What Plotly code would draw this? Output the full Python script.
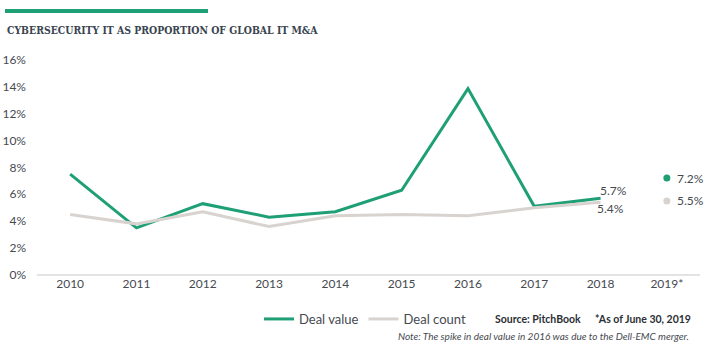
import plotly.graph_objects as go

years = ["2010", "2011", "2012", "2013", "2014", "2015", "2016", "2017", "2018", "2019*"]
deal_value = [7.5, 3.5, 5.3, 4.3, 4.7, 6.3, 13.85, 5.1, 5.7]
deal_count = [4.5, 3.8, 4.7, 3.6, 4.4, 4.5, 4.4, 5.0, 5.4]
ytd_value = 7.2
ytd_count = 5.5
y_ticks = [0, 2, 4, 6, 8, 10, 12, 14, 16]

GREEN = "#1f9f76"
GRAY = "#d8d3cf"
FONT = "Lato"
TXT = "#454a50"

fig = go.Figure()
fig.add_trace(go.Scatter(x=years[:9], y=deal_value, mode="lines", name="Deal value",
                         line=dict(color=GREEN, width=3)))
fig.add_trace(go.Scatter(x=years[:9], y=deal_count, mode="lines", name="Deal count",
                         line=dict(color=GRAY, width=3)))
fig.add_trace(go.Scatter(x=[years[9]], y=[ytd_value], mode="markers", showlegend=False,
                         marker=dict(color=GREEN, size=7)))
fig.add_trace(go.Scatter(x=[years[9]], y=[ytd_count], mode="markers", showlegend=False,
                         marker=dict(color=GRAY, size=7)))

ann = []
ann.append(dict(x=8, y=deal_value[8], text=f"{deal_value[8]:.1f}%", xref="x", yref="y",
                showarrow=False, xanchor="left", xshift=-3, yshift=8,
                font=dict(family=FONT, size=12, color=TXT)))
ann.append(dict(x=8, y=deal_count[8], text=f"{deal_count[8]:.1f}%", xref="x", yref="y",
                showarrow=False, xanchor="left", xshift=-6, yshift=-6,
                font=dict(family=FONT, size=12, color=TXT)))
ann.append(dict(x=9, y=ytd_value, text=f"{ytd_value:.1f}%", xref="x", yref="y",
                showarrow=False, xanchor="left", xshift=8, yshift=0,
                font=dict(family=FONT, size=12, color=TXT)))
ann.append(dict(x=9, y=ytd_count, text=f"{ytd_count:.1f}%", xref="x", yref="y",
                showarrow=False, xanchor="left", xshift=8, yshift=0,
                font=dict(family=FONT, size=12, color=TXT)))
ann.append(dict(x=5, y=30, xref="paper", yref="paper", text="<b>CYBERSECURITY IT AS PROPORTION OF GLOBAL IT M&A</b>",
                showarrow=False, xanchor="left", yanchor="middle",
                font=dict(family="DejaVu Serif Condensed, Liberation Serif, serif", size=10.4, color="#3a4450")))
ann.append(dict(x=493, y=319, xref="paper", yref="paper", text="<b>Source: PitchBook</b>",
                showarrow=False, xanchor="left", yanchor="middle",
                font=dict(family=FONT, size=10.5, color="#2b2f33")))
ann.append(dict(x=593, y=319, xref="paper", yref="paper", text="<b>*As of June 30, 2019</b>",
                showarrow=False, xanchor="left", yanchor="middle",
                font=dict(family=FONT, size=10.5, color="#2b2f33")))
ann.append(dict(x=691, y=336, xref="paper", yref="paper",
                text="<i>Note: The spike in deal value in 2016 was due to the Dell-EMC merger.</i>",
                showarrow=False, xanchor="right", yanchor="middle",
                font=dict(family=FONT, size=10, color="#454a50")))

L, R, T, B = 37, 19, 59, 71
W, H = 719, 346
pw, ph = W - L - R, H - T - B
for a in ann:
    if a["xref"] == "paper":
        a["x"] = (a["x"] - L) / pw
        a["y"] = (H - B - a["y"]) / ph

fig.update_layout(
    width=W, height=H,
    margin=dict(l=L, r=R, t=T, b=B, autoexpand=False),
    plot_bgcolor="white", paper_bgcolor="white",
    font=dict(family=FONT, size=12, color=TXT),
    xaxis=dict(type="category", range=[-0.5, 9.5], showgrid=False, showline=False,
               zeroline=False, ticks="", tickfont=dict(size=12, color=TXT), automargin=False),
    yaxis=dict(range=[0, 16.05], tickvals=y_ticks, ticktext=[f"{v}%" for v in y_ticks],
               showgrid=False, zeroline=True, zerolinecolor="#e3e3e3", zerolinewidth=2,
               showline=False, ticks="", ticklabelstandoff=10, automargin=False,
               tickfont=dict(size=12, color=TXT)),
    legend=dict(orientation="h", x=(259 - L) / pw, y=(H - B - 319) / ph, xanchor="left",
                yanchor="middle", font=dict(family=FONT, size=13, color=TXT),
                itemwidth=30, tracegroupgap=0, bgcolor="rgba(0,0,0,0)"),
    annotations=ann,
    shapes=[dict(type="rect", xref="paper", yref="paper",
                 x0=(5 - L) / pw, x1=(208 - L) / pw,
                 y0=(H - B - 13) / ph, y1=(H - B - 9) / ph,
                 fillcolor=GREEN, line=dict(width=0))],
    showlegend=True,
)
fig.write_html("out.html")
